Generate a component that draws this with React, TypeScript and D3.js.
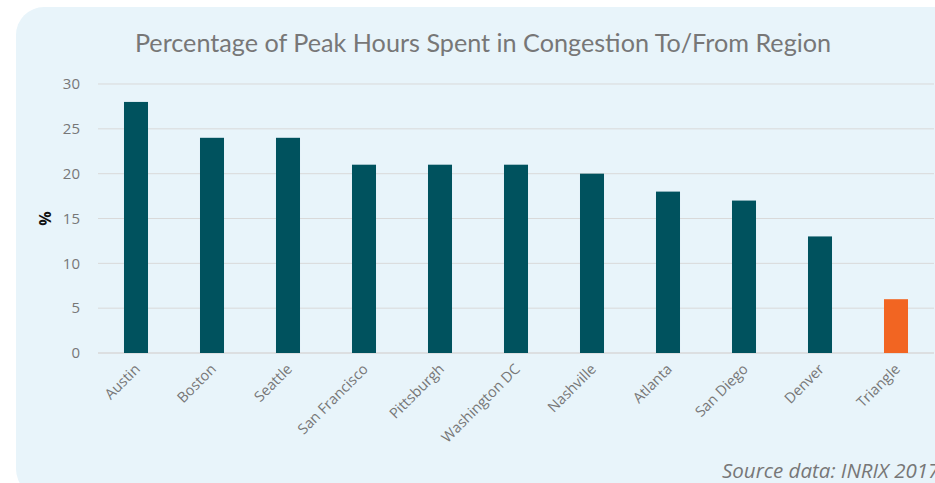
import React, { useRef, useEffect } from "react";
import * as d3 from "d3";

// Chart data
const regions = [
  "Austin",
  "Boston",
  "Seattle",
  "San Francisco",
  "Pittsburgh",
  "Washington DC",
  "Nashville",
  "Atlanta",
  "San Diego",
  "Denver",
  "Triangle",
];
const congestion = [28, 24, 24, 21, 21, 21, 20, 18, 17, 13, 6];
const yTicks = [0, 5, 10, 15, 20, 25, 30];
const highlight = "Triangle";

const W = 935;
const H = 483;

const App = () => {
  const svgRef = useRef<SVGSVGElement>(null);

  useEffect(() => {
    const svg = d3.select(svgRef.current);
    svg.selectAll("*").remove();

    const margin = { top: 84, right: 1, bottom: 130, left: 98 };

    // panel background
    svg
      .append("rect")
      .attr("x", 16)
      .attr("y", 7)
      .attr("width", 1000)
      .attr("height", 490)
      .attr("rx", 28)
      .attr("fill", "#e8f4fa");

    const x = d3
      .scaleBand()
      .domain(regions)
      .range([margin.left, W - margin.right])
      .paddingInner(0.684)
      .paddingOuter(0.342);

    const y = d3
      .scaleLinear()
      .domain([0, 30])
      .range([H - margin.bottom, margin.top]);

    // gridlines
    svg
      .append("g")
      .selectAll("line")
      .data(yTicks)
      .join("line")
      .attr("x1", margin.left)
      .attr("x2", W - margin.right)
      .attr("y1", (d) => y(d))
      .attr("y2", (d) => y(d))
      .attr("stroke", "#d9d9d9")
      .attr("stroke-width", (d) => (d === 0 ? 1.5 : 1));

    // y tick labels
    svg
      .append("g")
      .selectAll("text")
      .data(yTicks)
      .join("text")
      .attr("x", 80)
      .attr("y", (d) => y(d))
      .attr("dy", "0.35em")
      .attr("text-anchor", "end")
      .attr("font-family", "'Open Sans', sans-serif")
      .attr("font-size", 15)
      .attr("fill", "#777")
      .text((d) => d);

    // bars
    svg
      .append("g")
      .selectAll("rect")
      .data(regions)
      .join("rect")
      .attr("x", (d) => x(d)!)
      .attr("width", x.bandwidth())
      .attr("y", (d, i) => y(congestion[i]))
      .attr("height", (d, i) => y(0) - y(congestion[i]))
      .attr("fill", (d) => (d === highlight ? "#f26522" : "#00525e"));

    // x labels
    svg
      .append("g")
      .selectAll("text")
      .data(regions)
      .join("text")
      .attr(
        "transform",
        (d) => `translate(${x(d)! + x.bandwidth() / 2 + 5},${y(0) + 17}) rotate(-45)`
      )
      .attr("text-anchor", "end")
      .attr("font-family", "'Open Sans', sans-serif")
      .attr("font-size", 14.5)
      .attr("fill", "#777")
      .text((d) => d);

    // y axis title
    svg
      .append("text")
      .attr("transform", `translate(51,${y(15)}) rotate(-90)`)
      .attr("text-anchor", "middle")
      .attr("font-family", "'Open Sans', sans-serif")
      .attr("font-weight", "bold")
      .attr("font-size", 16)
      .attr("fill", "#111")
      .text("%");

    // chart title
    svg
      .append("text")
      .attr("x", 483)
      .attr("y", 52)
      .attr("text-anchor", "middle")
      .attr("font-family", "Lato, sans-serif")
      .attr("font-size", 25.2)
      .attr("fill", "#777")
      .text("Percentage of Peak Hours Spent in Congestion To/From Region");

    // source note
    svg
      .append("text")
      .attr("x", 722)
      .attr("y", 478)
      .attr("font-family", "'Open Sans', sans-serif")
      .attr("font-style", "italic")
      .attr("font-size", 20.5)
      .attr("fill", "#777")
      .text("Source data: INRIX 2017");
  }, []);

  return (
    <svg
      ref={svgRef}
      width={W}
      height={H}
      style={{ position: "absolute", left: 0, top: 0, background: "#fff" }}
    />
  );
};

export default App;
